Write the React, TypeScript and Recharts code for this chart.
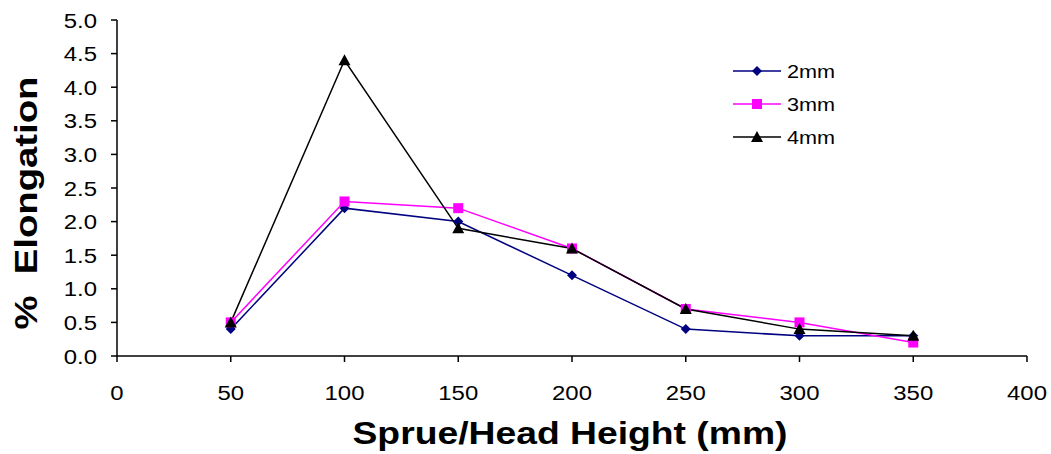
import { LineChart, Line, XAxis, YAxis, Legend } from "recharts";

const heights = [50, 100, 150, 200, 250, 300, 350];
const elong2mm = [0.4, 2.2, 2.0, 1.2, 0.4, 0.3, 0.3];
const elong3mm = [0.5, 2.3, 2.2, 1.6, 0.7, 0.5, 0.2];
const elong4mm = [0.5, 4.4, 1.9, 1.6, 0.7, 0.4, 0.3];
const xTicks = [0, 50, 100, 150, 200, 250, 300, 350, 400];
const yTicks = [0, 0.5, 1, 1.5, 2, 2.5, 3, 3.5, 4, 4.5, 5];

type Shape = "diamond" | "square" | "triangle";

const SERIES: { key: string; name: string; color: string; shape: Shape }[] = [
  { key: "s2", name: "2mm", color: "#000080", shape: "diamond" },
  { key: "s3", name: "3mm", color: "#FF00FF", shape: "square" },
  { key: "s4", name: "4mm", color: "#000000", shape: "triangle" },
];

const data = heights.map((h, i) => ({
  h,
  s2: elong2mm[i],
  s3: elong3mm[i],
  s4: elong4mm[i],
}));

const FONT = "'Liberation Sans', Arial, sans-serif";

function Marker({ cx, cy, shape, color }: { cx: number; cy: number; shape: Shape; color: string }) {
  if (shape === "diamond")
    return (
      <polygon
        points={`${cx},${cy - 5} ${cx + 5},${cy} ${cx},${cy + 5} ${cx - 5},${cy}`}
        fill={color}
      />
    );
  if (shape === "square")
    return <rect x={cx - 5} y={cy - 5} width={10} height={10} fill={color} />;
  return (
    <polygon
      points={`${cx},${cy - 6} ${cx + 6},${cy + 5} ${cx - 6},${cy + 5}`}
      fill={color}
    />
  );
}

function XTick({ x, y, payload }: any) {
  return (
    <text
      transform={`translate(${x},${y}) scale(1.14,1)`}
      textAnchor="middle"
      dy="0.71em"
      fontSize={21}
      fontFamily={FONT}
      fill="#000"
    >
      {payload.value}
    </text>
  );
}

function YTick({ x, y, payload }: any) {
  return (
    <text
      transform={`translate(${x},${y}) scale(1.14,1)`}
      textAnchor="end"
      dy="0.36em"
      fontSize={21}
      fontFamily={FONT}
      fill="#000"
    >
      {Number(payload.value).toFixed(1)}
    </text>
  );
}

function LegendBox() {
  return (
    <svg width={140} height={100}>
      {SERIES.map((s, i) => {
        const cy = 16 + i * 33;
        return (
          <g key={s.key}>
            <line x1={8} x2={56} y1={cy} y2={cy} stroke={s.color} strokeWidth={1.5} />
            <Marker cx={32} cy={cy} shape={s.shape} color={s.color} />
            <text
              transform={`translate(62,${cy}) scale(1.14,1)`}
              dy="0.36em"
              fontSize={19}
              fontFamily={FONT}
              fill="#000"
            >
              {s.name}
            </text>
          </g>
        );
      })}
    </svg>
  );
}

export default function App() {
  return (
    <div
      style={{
        position: "absolute",
        left: 0,
        top: 0,
        width: 1051,
        height: 454,
        background: "#fff",
      }}
    >
      <LineChart
        width={1051}
        height={454}
        data={data}
        margin={{ top: 20, right: 24, left: 0, bottom: 0 }}
      >
        <XAxis
          dataKey="h"
          type="number"
          domain={[0, 400]}
          ticks={xTicks}
          tickSize={6}
          tickMargin={23}
          height={98}
          stroke="#000"
          strokeWidth={1.5}
          tick={<XTick />}
          label={{
            content: () => (
              <text
                x={570}
                y={444}
                textAnchor="middle"
                fontSize={32}
                fontWeight="bold"
                fontFamily={FONT}
                textLength={435}
                lengthAdjust="spacingAndGlyphs"
                fill="#000"
              >
                Sprue/Head Height (mm)
              </text>
            ),
          }}
        />
        <YAxis
          type="number"
          domain={[0, 5]}
          ticks={yTicks}
          interval={0}
          width={117}
          tickSize={6}
          tickMargin={14}
          stroke="#000"
          strokeWidth={1.5}
          tick={<YTick />}
          label={{
            content: () => (
              <text
                transform="translate(37,203) rotate(-90)"
                textAnchor="middle"
                fontSize={32}
                fontWeight="bold"
                fontFamily={FONT}
                textLength={253}
                lengthAdjust="spacingAndGlyphs"
                style={{ whiteSpace: "pre" }}
                fill="#000"
              >
                {"%  Elongation"}
              </text>
            ),
          }}
        />
        <Legend
          layout="horizontal"
          align="center"
          verticalAlign="middle"
          wrapperStyle={{ left: 725, top: 55, width: 140, height: 100 }}
          content={() => <LegendBox />}
        />
        {SERIES.map((s) => (
          <Line
            key={s.key}
            dataKey={s.key}
            name={s.name}
            stroke={s.color}
            strokeWidth={1.5}
            isAnimationActive={false}
            dot={(p: any) => (
              <Marker
                key={`${s.key}-${p.index}`}
                cx={p.cx}
                cy={p.cy}
                shape={s.shape}
                color={s.color}
              />
            )}
            activeDot={false}
          />
        ))}
      </LineChart>
    </div>
  );
}
